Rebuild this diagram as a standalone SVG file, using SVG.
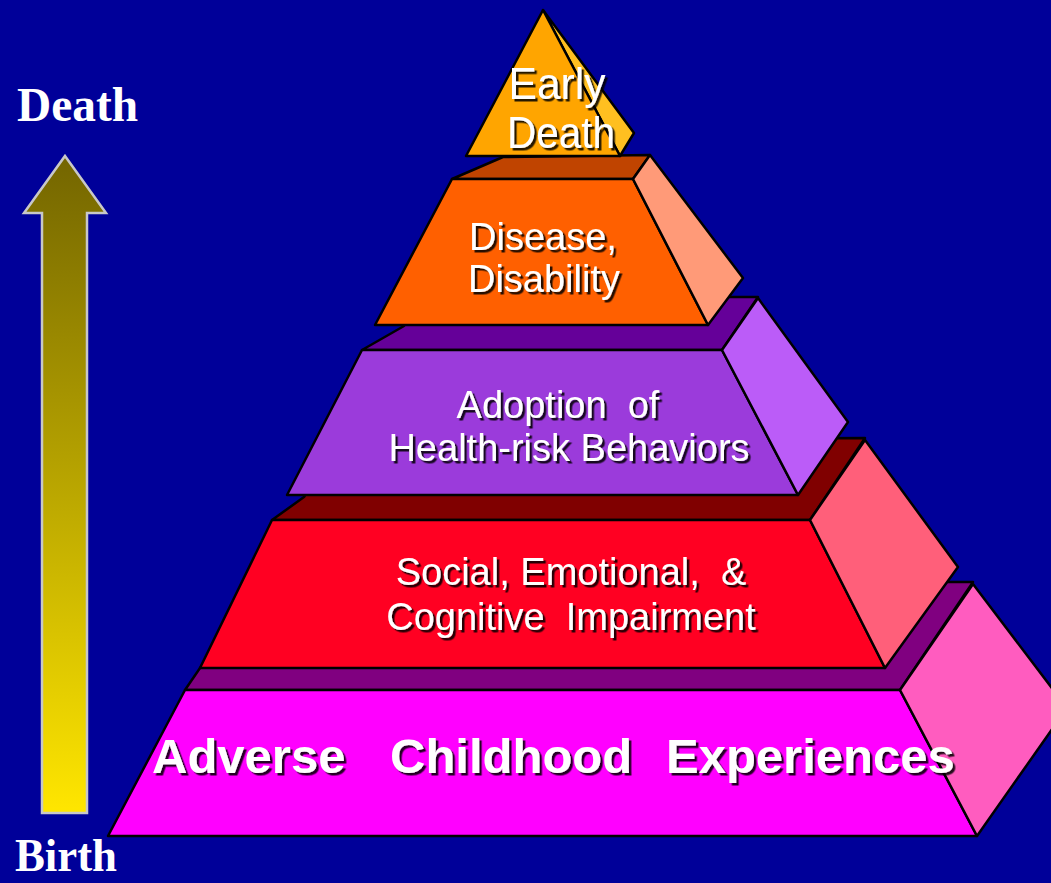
<svg xmlns="http://www.w3.org/2000/svg" width="1051" height="883" viewBox="0 0 1051 883">
<defs>
<linearGradient id="arrowGrad" x1="0" y1="156" x2="0" y2="813" gradientUnits="userSpaceOnUse">
<stop offset="0" stop-color="#736500"/>
<stop offset="1" stop-color="#ffe600"/>
</linearGradient>
<filter id="shadow" x="-10%" y="-20%" width="125%" height="150%">
<feDropShadow dx="2.5" dy="2.5" stdDeviation="0.3" flood-color="#000" flood-opacity="0.85"/>
</filter>
</defs>
<style>
.face{stroke:#000;stroke-width:2.5;stroke-linejoin:round}
.lbl{font-family:"Liberation Sans",Arial,sans-serif;fill:#fff;text-anchor:middle;filter:url(#shadow);font-size:38px}
.axis{font-family:"Liberation Serif","Times New Roman",serif;font-weight:bold;fill:#fff;font-size:48px}
</style>
<rect width="1051" height="883" fill="#000099"/>

<g id="axis">
<polygon points="65,156 106,213 87,213 87,813 42,813 42,213 24,213" fill="url(#arrowGrad)" stroke="#c8c8c8" stroke-width="2.5"/>
<text class="axis" x="17" y="121" textLength="121" lengthAdjust="spacingAndGlyphs">Death</text>
<text class="axis" x="15" y="871" style="font-size:46px" textLength="102" lengthAdjust="spacingAndGlyphs">Birth</text>
</g>

<g id="tier-ace">
<polygon class="face" points="185,690 200,668 260,582 973,582 900,690" fill="#800080"/>
<polygon class="face" points="185,690 900,690 977,836 108,836" fill="#ff00ff"/>
<polygon class="face" points="900,690 973,584 1067,708 977,836" fill="#ff5cbf"/>
<text class="lbl" style="text-anchor:start;font-weight:bold;font-size:49px" y="773"><tspan x="152">Adverse</tspan> <tspan x="390">Childhood</tspan> <tspan x="666">Experiences</tspan></text>
</g>

<g id="tier-impairment">
<polygon class="face" points="272,520 304,497 340,440 865,438 810,520" fill="#800000"/>
<polygon class="face" points="272,520 810,520 885,668 200,668" fill="#ff0022"/>
<polygon class="face" points="810,520 865,440 958,567 885,668" fill="#ff5f7a"/>
<text class="lbl" x="571" y="585" xml:space="preserve" style="white-space:pre">Social, Emotional,  &amp;</text>
<text class="lbl" x="571" y="630" xml:space="preserve" style="white-space:pre">Cognitive  Impairment</text>
</g>

<g id="tier-behaviors">
<polygon class="face" points="362,350 404,326 420,297 758,297 722,350" fill="#650099"/>
<polygon class="face" points="362,350 722,350 798,495 287,495" fill="#9b3bdb"/>
<polygon class="face" points="722,350 758,298 848,422 798,495" fill="#bb5cf8"/>
<text class="lbl" x="558" y="418" xml:space="preserve" style="white-space:pre">Adoption  of</text>
<text class="lbl" x="569" y="461">Health-risk Behaviors</text>
</g>

<g id="tier-disease">
<polygon class="face" points="452,179 503,157 650,155 633,179" fill="#c04400"/>
<polygon class="face" points="452,179 633,179 708,325 375,325" fill="#ff6000"/>
<polygon class="face" points="633,179 650,155 743,278 708,325" fill="#ff9a78"/>
<text class="lbl" x="543" y="250">Disease,</text>
<text class="lbl" x="544" y="292">Disability</text>
</g>

<g id="tier-death">
<polygon class="face" points="543,10 634,133 620,156" fill="#ffbf20"/>
<polygon class="face" points="543,10 620,156 466,156" fill="#ffa500"/>
<text class="lbl" x="557" y="99" style="font-size:44px" textLength="97" lengthAdjust="spacingAndGlyphs">Early</text>
<text class="lbl" x="561" y="148" style="font-size:44px" textLength="108" lengthAdjust="spacingAndGlyphs">Death</text>
</g>
</svg>
